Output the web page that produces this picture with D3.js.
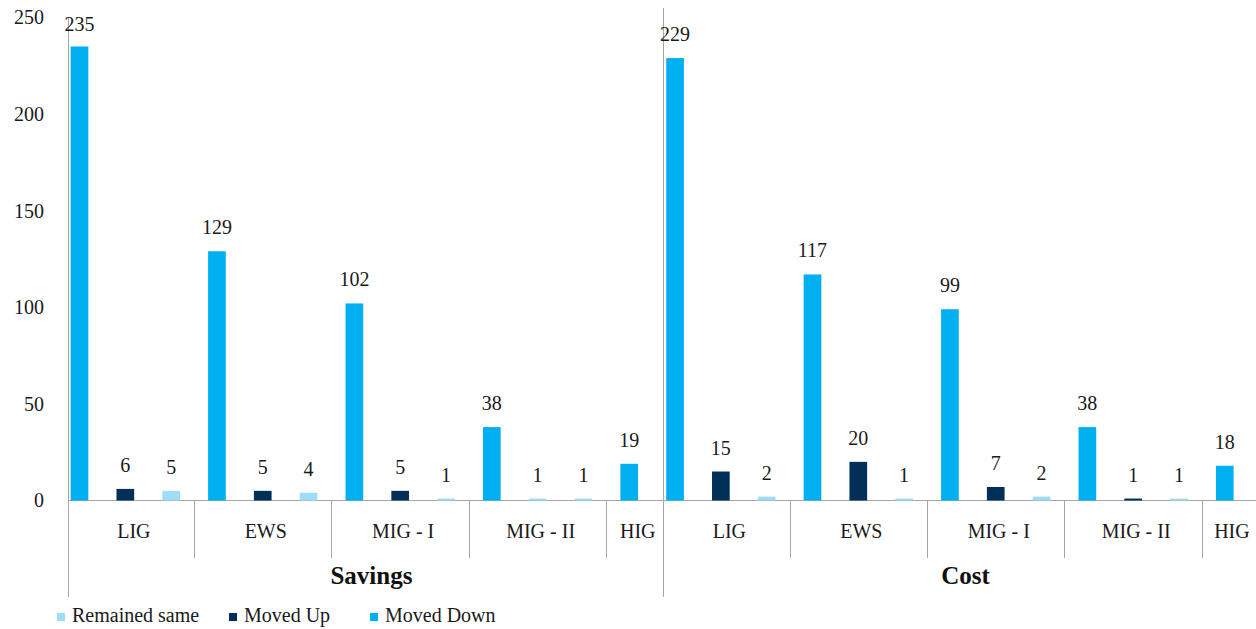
<!DOCTYPE html>
<html>
<head>
<meta charset="utf-8">
<script src="https://cdn.jsdelivr.net/npm/d3@7"></script>
<style>
  body { margin: 0; background: #fff; }
  svg, svg text { font-family: "Liberation Serif", "DejaVu Serif", "Noto Serif", serif; }
</style>
</head>
<body>
<div id="chart"></div>
<script>
const groupNames = ['Savings', 'Cost'];
const categoryNames = ['LIG', 'EWS', 'MIG - I', 'MIG - II', 'HIG'];
const seriesNames = ['Remained same', 'Moved Up', 'Moved Down'];
const seriesColors = ['#9fdcf7', '#002f57', '#00b0f0'];
const tickValues = [0, 50, 100, 150, 200, 250];

// one entry per bar slot, left to right within a group
const slotCategories = ['LIG', 'LIG', 'LIG', 'EWS', 'EWS', 'EWS',
  'MIG - I', 'MIG - I', 'MIG - I', 'MIG - II', 'MIG - II', 'MIG - II', 'HIG'];
const savingsValues = [235, 6, 5, 129, 5, 4, 102, 5, 1, 38, 1, 1, 19];
const savingsSeries = ['Moved Down', 'Moved Up', 'Remained same', 'Moved Down', 'Moved Up', 'Remained same',
  'Moved Down', 'Moved Up', 'Remained same', 'Moved Down', 'Remained same', 'Remained same', 'Moved Down'];
const costValues = [229, 15, 2, 117, 20, 1, 99, 7, 2, 38, 1, 1, 18];
const costSeries = ['Moved Down', 'Moved Up', 'Remained same', 'Moved Down', 'Moved Up', 'Remained same',
  'Moved Down', 'Moved Up', 'Remained same', 'Moved Down', 'Moved Up', 'Remained same', 'Moved Down'];

const FONT = '"Liberation Serif", "DejaVu Serif", "Noto Serif", serif';

let barChart = {};

barChart.create = function(element, state) {
  const { width, height } = state;

  const svg = d3.select(element).append('svg')
    .attr('width', width)
    .attr('height', height)
    .attr('font-family', FONT);

  const bars = this._buildBars();
  const scales = this._setScales(bars, state);

  this._drawAxes(svg, scales, state);
  this._drawCategories(svg, bars, scales, state);
  this._drawBars(svg, bars, scales, state);
  this._drawLegend(svg, state);
};

barChart._buildBars = function() {
  const groups = [
    { name: 'Savings', values: savingsValues, series: savingsSeries },
    { name: 'Cost', values: costValues, series: costSeries }
  ];
  const bars = [];
  groups.forEach(g => {
    g.values.forEach((v, i) => {
      bars.push({ key: g.name + '|' + i, group: g.name, category: slotCategories[i], series: g.series[i], value: v });
    });
  });
  return bars;
};

barChart._setScales = function(bars, state) {
  const { plot } = state;

  const x = d3.scaleBand()
    .domain(bars.map(d => d.key))
    .range([plot.left, plot.right])
    .paddingInner(0.614)
    .paddingOuter(0.307);

  const y = d3.scaleLinear()
    .domain([0, 250])
    .range([plot.bottom, plot.top]);

  const color = d3.scaleOrdinal().domain(seriesNames).range(seriesColors);

  return { x, y, color };
};

barChart._drawAxes = function(svg, scales, state) {
  const { plot, lineColor, textColor } = state;
  const { y } = scales;

  const yAxis = svg.append('g')
    .attr('class', 'axis axis-y')
    .attr('transform', 'translate(' + plot.axisX + ',0)')
    .call(d3.axisLeft(y).tickValues(tickValues).tickSize(0).tickPadding(24));

  yAxis.select('.domain').remove();
  yAxis.attr('font-family', FONT);
  yAxis.selectAll('text')
    .attr('font-family', FONT)
    .attr('font-size', 20)
    .attr('fill', textColor);

  // baseline
  svg.append('line')
    .attr('x1', plot.axisX).attr('x2', state.width)
    .attr('y1', y(0)).attr('y2', y(0))
    .attr('stroke', lineColor);
};

barChart._drawCategories = function(svg, bars, scales, state) {
  const { x, y } = scales;
  const { lineColor, textColor, width } = state;
  const half = (x.step() - x.bandwidth()) / 2;

  groupNames.forEach((g, gi) => {
    const groupBars = bars.filter(d => d.group === g);
    const left = x(groupBars[0].key) - 3;
    const nextGroup = bars.find(d => d.group === groupNames[gi + 1]);
    const right = nextGroup ? x(nextGroup.key) - 3 : width;

    // outer group line
    svg.append('line')
      .attr('x1', Math.round(left) + 0.5).attr('x2', Math.round(left) + 0.5)
      .attr('y1', gi === 0 ? y(250) : 8).attr('y2', 597)
      .attr('stroke', lineColor);

    const edges = categoryNames.map((c, ci) => {
      if (ci === 0) return left;
      const first = groupBars.find(d => d.category === c);
      return x(first.key) - half;
    });
    edges.push(right);

    categoryNames.forEach((c, ci) => {
      if (ci > 0) {
        svg.append('line')
          .attr('x1', Math.round(edges[ci]) + 0.5).attr('x2', Math.round(edges[ci]) + 0.5)
          .attr('y1', y(0)).attr('y2', 558)
          .attr('stroke', lineColor);
      }
      svg.append('text')
        .attr('x', (edges[ci] + edges[ci + 1]) / 2 + 3)
        .attr('y', 538)
        .attr('text-anchor', 'middle')
        .attr('font-size', 20)
        .attr('fill', textColor)
        .text(c);
    });

    svg.append('text')
      .attr('x', (left + right) / 2 + 6)
      .attr('y', 584)
      .attr('text-anchor', 'middle')
      .attr('font-size', 25)
      .attr('font-weight', 'bold')
      .attr('fill', '#111')
      .text(g);
  });
};

barChart._drawBars = function(svg, bars, scales, state) {
  const { x, y, color } = scales;

  const bar = svg.append('g').attr('class', 'bars')
    .selectAll('g')
    .data(bars)
    .enter()
    .append('g');

  bar.append('rect')
    .attr('x', d => x(d.key))
    .attr('y', d => y(d.value))
    .attr('width', x.bandwidth())
    .attr('height', d => y(0) - y(d.value))
    .attr('fill', d => color(d.series));

  bar.append('text')
    .attr('x', d => x(d.key) + x.bandwidth() / 2)
    .attr('y', d => Math.max(y(d.value) - 17, 31))
    .attr('text-anchor', 'middle')
    .attr('font-size', 20)
    .attr('fill', state.textColor)
    .text(d => d.value);
};

barChart._drawLegend = function(svg, state) {
  const legendX = [57, 229, 370];

  const item = svg.append('g').attr('class', 'legend')
    .selectAll('g')
    .data(seriesNames)
    .enter()
    .append('g')
    .attr('transform', (d, i) => 'translate(' + legendX[i] + ',0)');

  item.append('rect')
    .attr('x', 0).attr('y', 613)
    .attr('width', 8).attr('height', 8)
    .attr('fill', (d, i) => seriesColors[i]);

  item.append('text')
    .attr('x', 15).attr('y', 622)
    .attr('font-size', 20)
    .attr('fill', state.textColor)
    .text(d => d);
};

barChart.create('#chart', {
  width: 1256,
  height: 629,
  plot: { left: 56.6, right: 1247.7, top: 17.5, bottom: 500.5, axisX: 68 },
  lineColor: '#a6a6a6',
  textColor: '#1a1a1a'
});
</script>
</body>
</html>
